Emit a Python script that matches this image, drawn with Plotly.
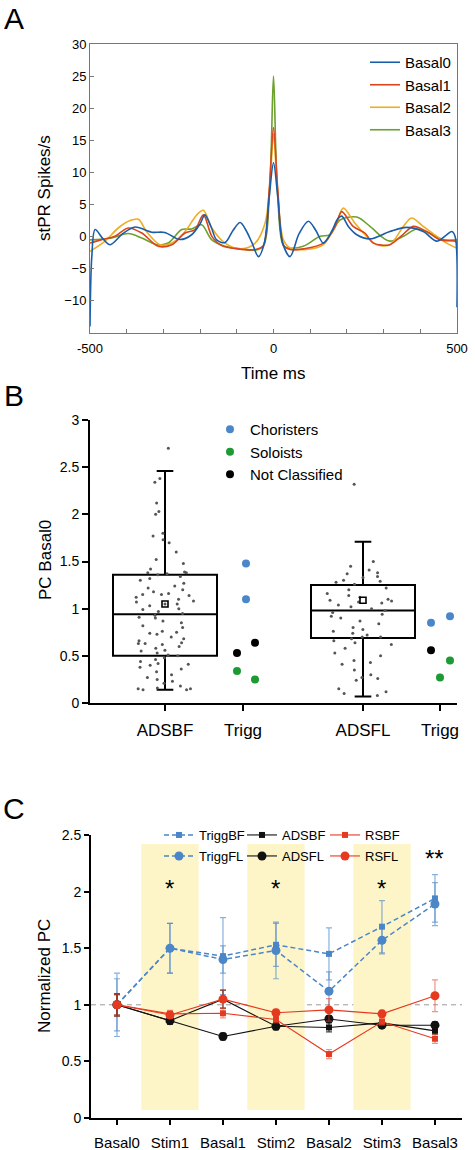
import plotly.graph_objects as go

FONT = "Liberation Sans, Arial, Helvetica, sans-serif"
W_VIEW, H = 475, 1150
W = 505  # figure canvas is a little wider than the window so the panel-A legend can sit near the edge

# ---------------- Panel A data ----------------
a_names = ["Basal0", "Basal1", "Basal2", "Basal3"]
a_colors = ["#1a5ea9", "#d9461b", "#eead22", "#6ba12c"]

basal0_t = [-500, -495, -486, -465, -445, -410, -377, -332, -296, -255, -223, -200, -187, -170, -155,
            -132, -110, -91, -75, -59, -41, -25, -12, 0, 12, 25, 45, 70, 95, 115, 136, 160, 175, 186,
            205, 227, 263, 317, 363, 408, 445, 470, 486, 495, 500]
basal0_v = [-14, -3, 1.1, -0.3, -1.25, 0.5, 1.5, 0.7, 0.65, -0.45, 0.3, 2.0, 3.4, 1.5, -0.5,
            -0.9, 1.0, 2.2, 1.0, -0.9, -3.1, -1.0, 6, 11.5, 6, -1.0, -3.1, 0.5, 2.4, 1.0, -1.0, 1.0, 2.8, 3.2,
            1.5, 0.3, -0.35, 0.8, 1.45, 0.8, -0.7, 0.2, 0.8, 0, -11]

basal1_t = [-500, -470, -432, -396, -359, -314, -277, -241, -214, -191, -168, -141, -97, -50, -28, -12, 0,
            12, 28, 45, 81, 136, 168, 186, 217, 249, 272, 317, 350, 381, 417, 454, 495, 500]
basal1_v = [-1.0, -0.5, 0.05, 1.35, 0.57, -1.5, -1.25, 0.57, 1.1, 3.4, 0.05, -1.4, -1.9, -2.0, -1.4, 7, 17,
            7, -1.4, -2.0, -1.9, -1.0, 1.6, 3.9, 1.6, 0.57, -1.0, -1.25, 0.2, 1.6, 0.8, -0.5, -0.7, -1.0]

basal2_t = [-500, -459, -423, -391, -368, -346, -309, -277, -241, -209, -191, -168, -132, -87, -50, -23,
            -10, 0, 10, 27, 45, 90, 136, 172, 190, 222, 254, 281, 317, 354, 376, 408, 445, 472, 500]
basal2_v = [-2.3, -0.7, 1.35, 2.5, 2.7, 0.8, -1.25, -1.0, 0.8, 3.4, 4.1, 1.35, -1.0, -1.9, -1.0, 2.1,
            8, 16, 8, -0.5, -1.75, -2.0, -1.25, 2.1, 4.45, 2.1, 0.05, -1.25, -1.25, 1.6, 2.9, 1.6, 0.05, -1.0, -1.8]

basal3_t = [-500, -441, -396, -359, -318, -287, -250, -223, -196, -168, -132, -87, -50, -28, -10, 0, 10,
            28, 45, 81, 127, 154, 181, 227, 263, 299, 317, 354, 390, 426, 463, 500]
basal3_v = [-0.5, -0.2, 0.5, -0.2, -1.25, -1.0, 1.1, 1.2, 1.85, -0.5, -1.5, -1.9, -2.1, -1.5, 8, 25, 8,
            -1.5, -1.8, -1.5, 0.05, 0.3, 2.6, 3.05, 1.6, -0.2, -0.7, 0.05, 1.2, 0.57, -0.5, -0.5]

a_t = [basal0_t, basal1_t, basal2_t, basal3_t]
a_v = [basal0_v, basal1_v, basal2_v, basal3_v]
a_xticks = [-500, -400, -300, -200, -100, 0, 100, 200, 300, 400, 500]
a_xlabels = ["-500", "", "", "", "", "0", "", "", "", "", "500"]
a_yticks = [-10, -5, 0, 5, 10, 15, 20, 25, 30]

# ---------------- Panel B data ----------------
b_cats = ["ADSBF", "Trigg", "ADSFL", "Trigg"]
adsbf_vals = [2.70, 2.38, 2.34, 2.12, 2.03, 2.00, 1.80, 1.77, 1.73, 1.70, 1.60, 1.52, 1.48, 1.42,
              1.39, 1.38, 1.38, 1.37, 1.36, 1.34, 1.32, 1.30, 1.27, 1.24, 1.22, 1.20, 1.18, 1.16, 1.15,
              1.15, 1.14, 1.12, 1.10, 1.08, 1.07, 1.05, 1.05, 1.03, 1.00, 0.99, 0.97, 0.95, 0.93, 0.91,
              0.90, 0.87, 0.85, 0.82, 0.80, 0.76, 0.75, 0.74, 0.73, 0.70, 0.68, 0.66, 0.64, 0.63, 0.63,
              0.62, 0.60, 0.58, 0.56, 0.55, 0.53, 0.51, 0.50, 0.48, 0.46, 0.44, 0.42, 0.41, 0.40, 0.38,
              0.36, 0.33, 0.30, 0.27, 0.25, 0.23, 0.21, 0.18, 0.16, 0.15, 0.15, 0.14, 0.14]
adsfl_vals = [2.32, 1.50, 1.45, 1.41, 1.38, 1.37, 1.34, 1.33, 1.30, 1.29, 1.28, 1.26, 1.22, 1.20, 1.16,
              1.14, 1.12, 1.10, 1.09, 1.08, 1.07, 1.06, 1.04, 1.02, 1.00, 0.98, 0.96, 0.94, 0.92, 0.90,
              0.87, 0.84, 0.80, 0.78, 0.76, 0.74, 0.72, 0.70, 0.70, 0.68, 0.66, 0.64, 0.62, 0.58, 0.53,
              0.50, 0.45, 0.43, 0.41, 0.35, 0.30, 0.27, 0.26, 0.24, 0.15, 0.12, 0.10, 0.08]
box_q1 = [0.50, 0.69]
box_median = [0.94, 0.98]
box_q3 = [1.36, 1.25]
box_low = [0.14, 0.07]
box_high = [2.46, 1.71]
box_mean = [1.05, 1.09]

trigg_classes = ["Choristers", "Soloists", "Not Classified"]
trigg_colors = ["#4a86c8", "#1c9a33", "#000000"]
# values for [first Trigg group, second Trigg group]
trigg_chor = [[1.48, 1.10], [0.85, 0.92]]
trigg_solo = [[0.34, 0.25], [0.45, 0.27]]
trigg_notc = [[0.53, 0.64], [0.56]]
trigg_vals = [trigg_chor, trigg_solo, trigg_notc]

# ---------------- Panel C data ----------------
c_cats = ["Basal0", "Stim1", "Basal1", "Stim2", "Basal2", "Stim3", "Basal3"]
c_names = ["TriggBF", "TriggFL", "ADSBF", "ADSFL", "RSBF", "RSFL"]
triggbf_y = [1.00, 1.50, 1.43, 1.53, 1.45, 1.69, 1.94]
triggbf_e = [0.23, 0.22, 0.34, 0.19, 0.23, 0.23, 0.21]
triggfl_y = [1.00, 1.50, 1.40, 1.48, 1.12, 1.57, 1.89]
triggfl_e = [0.28, 0.22, 0.12, 0.25, 0.17, 0.12, 0.19]
adsbf_y = [1.00, 0.86, 1.05, 0.81, 0.80, 0.84, 0.77]
adsbf_e = [0.10, 0.03, 0.08, 0.03, 0.04, 0.02, 0.03]
adsfl_y = [1.00, 0.86, 0.72, 0.81, 0.875, 0.82, 0.82]
adsfl_e = [0.09, 0.03, 0.03, 0.03, 0.03, 0.02, 0.03]
rsbf_y = [1.00, 0.92, 0.925, 0.87, 0.565, 0.85, 0.70]
rsbf_e = [0.10, 0.03, 0.04, 0.03, 0.04, 0.03, 0.04]
rsfl_y = [1.00, 0.91, 1.05, 0.93, 0.955, 0.92, 1.08]
rsfl_e = [0.09, 0.03, 0.08, 0.03, 0.10, 0.03, 0.14]
c_y = [triggbf_y, triggfl_y, adsbf_y, adsfl_y, rsbf_y, rsfl_y]
c_e = [triggbf_e, triggfl_e, adsbf_e, adsfl_e, rsbf_e, rsfl_e]
sig_cats = ["Stim1", "Stim2", "Stim3", "Basal3"]
sig_text = ["*", "*", "*", "**"]
sig_y = [2.03, 2.03, 2.03, 2.29]

# ---------------- layout helpers (pixels) ----------------
def px_x(p):
    return p / W

def px_y(p):
    return 1 - p / H

fig = go.Figure()

# Panel A traces (draw Basal3 first so Basal0 on top; legend ranks keep order)
for i in reversed(range(4)):
    fig.add_trace(go.Scatter(
        x=a_t[i], y=a_v[i], mode="lines", name=a_names[i],
        line=dict(color=a_colors[i], width=1.6, shape="spline", smoothing=0.9),
        xaxis="x", yaxis="y", legend="legend", legendrank=i + 1))

# Panel B
b_pos = [75, 153, 273, 350]
box_w = 104
fig.add_trace(go.Box(
    x=[b_pos[0], b_pos[2]], q1=box_q1, median=box_median, q3=box_q3,
    lowerfence=box_low, upperfence=box_high, width=box_w, whiskerwidth=0.16,
    boxpoints=False, line=dict(color="black", width=2), fillcolor="rgba(255,255,255,0)",
    showlegend=False, xaxis="x2", yaxis="y2"))
for pos, vals in ((b_pos[0], adsbf_vals), (b_pos[2], adsfl_vals)):
    fig.add_trace(go.Box(
        x=[pos] * len(vals), y=vals, width=box_w, boxpoints="all", jitter=0.8, pointpos=0,
        marker=dict(color="#555555", size=3), line=dict(width=0), fillcolor="rgba(0,0,0,0)",
        whiskerwidth=0, showlegend=False, xaxis="x2", yaxis="y2"))
fig.add_trace(go.Scatter(
    x=[b_pos[0], b_pos[2]], y=box_mean, mode="markers",
    marker=dict(symbol="square-open", size=6, color="black", line=dict(width=1.6)),
    showlegend=False, xaxis="x2", yaxis="y2"))

# dot offsets within each Trigg column (layout only)
trigg_offsets = [[[3, 3], [-9, 10]], [[-6, 12], [10, 0]], [[-6, 12], [-9]]]
for k in range(3):
    xs, ys = [], []
    for g, base in enumerate([b_pos[1], b_pos[3]]):
        for v, off in zip(trigg_vals[k][g], trigg_offsets[k][g]):
            xs.append(base + off)
            ys.append(v)
    fig.add_trace(go.Scatter(
        x=xs, y=ys, mode="markers", name=trigg_classes[k],
        marker=dict(color=trigg_colors[k], size=8),
        xaxis="x2", yaxis="y2", legend="legend2", legendrank=k + 1))

# Panel C
blue = "#4a86c8"
red = "#e63a20"
c_styles = [
    dict(color=blue, dash="5px,3px", symbol="square", size=6, ecol="rgba(74,134,200,0.65)", w=1.5),
    dict(color=blue, dash="5px,3px", symbol="circle", size=9, ecol="rgba(74,134,200,0.65)", w=1.5),
    dict(color="#111111", dash="solid", symbol="square", size=6, ecol="rgba(20,20,20,0.8)", w=1.1),
    dict(color="#111111", dash="solid", symbol="circle", size=9, ecol="rgba(20,20,20,0.8)", w=1.1),
    dict(color=red, dash="solid", symbol="square", size=6, ecol="rgba(230,58,32,0.55)", w=1.1),
    dict(color=red, dash="solid", symbol="circle", size=9, ecol="rgba(230,58,32,0.55)", w=1.1),
]
c_legend = ["legend3", "legend4", "legend3", "legend4", "legend3", "legend4"]
c_ranks = [1, 1, 2, 2, 3, 3]
for i in range(6):
    s = c_styles[i]
    fig.add_trace(go.Scatter(
        x=c_cats, y=c_y[i], mode="lines+markers", name=c_names[i],
        line=dict(color=s["color"], dash=s["dash"], width=s["w"]),
        marker=dict(symbol=s["symbol"], size=s["size"], color=s["color"]),
        error_y=dict(type="data", array=c_e[i], color=s["ecol"], thickness=1.2, width=3),
        xaxis="x3", yaxis="y3", legend=c_legend[i], legendrank=c_ranks[i]))

shapes = []
band_half = 0.54
for i, c in enumerate(c_cats):
    if c.startswith("Stim"):
        shapes.append(dict(type="rect", xref="x3", yref="y3", x0=i - band_half, x1=i + band_half,
                           y0=0.07, y1=2.42, fillcolor="#fdf5c8", line=dict(width=0), layer="below"))
shapes.append(dict(type="line", xref="x3 domain", yref="y3", x0=0, x1=1, y0=1, y1=1,
                   line=dict(color="#9a9a9a", width=1, dash="5px,4px"), layer="below"))

annotations = []
for c, t, yv in zip(sig_cats, sig_text, sig_y):
    annotations.append(dict(x=c, y=yv, xref="x3", yref="y3", text=t, showarrow=False,
                            font=dict(size=24, family=FONT, color="black")))

def paper_text(text, x, y, size, angle=0):
    return dict(x=px_x(x), y=px_y(y), xref="paper", yref="paper", text=text, showarrow=False,
                textangle=angle, font=dict(size=size, family=FONT, color="black"),
                xanchor="center", yanchor="middle")

annotations += [
    paper_text("A", 14, 18, 30),
    paper_text("B", 14, 395, 30),
    paper_text("C", 14, 808, 30),
    paper_text("stPR Spikes/s", 45, 188, 17, -90),
    paper_text("Time ms", 273, 373, 17),
    paper_text("PC Basal0", 45, 560, 17, -90),
    paper_text("Normalized PC", 44, 976, 17, -90),
]

tickfont13 = dict(size=13, family=FONT, color="black")
common = dict(showgrid=False, zeroline=False, automargin=False)
legend_common = dict(xanchor="left", yanchor="top", bgcolor="rgba(0,0,0,0)", traceorder="normal",
                     itemwidth=30, tracegroupgap=0)
fig.update_layout(
    template="none",
    width=W, height=H, margin=dict(l=0, r=0, t=0, b=0, pad=0, autoexpand=False),
    paper_bgcolor="white", plot_bgcolor="rgba(0,0,0,0)",
    font=dict(family=FONT, color="black"),
    shapes=shapes, annotations=annotations,
    xaxis=dict(domain=[px_x(90), px_x(457)], range=[-500, 500], tickvals=a_xticks, ticktext=a_xlabels,
               anchor="y", ticks="inside", ticklen=4, tickcolor="#777", showline=True, linecolor="#777",
               mirror=True, tickfont=tickfont13, ticklabelstandoff=3, **common),
    yaxis=dict(domain=[px_y(333), px_y(44)], range=[-15, 30], tickvals=a_yticks, anchor="x",
               ticks="inside", ticklen=4, tickcolor="#777", showline=True, linecolor="#777", mirror=True,
               tickfont=tickfont13, **common),
    xaxis2=dict(domain=[px_x(90), px_x(457)], range=[0, 367], tickvals=b_pos, ticktext=b_cats, anchor="y2",
                ticks="outside", ticklen=6, tickwidth=2, tickcolor="black", showline=True, linecolor="black",
                linewidth=2, tickfont=dict(size=17, family=FONT, color="black"), ticklabelstandoff=5,
                **common),
    yaxis2=dict(domain=[px_y(703), px_y(420)], range=[0, 3], tickvals=[0, 0.5, 1, 1.5, 2, 2.5, 3],
                ticktext=["0", "0.5", "1", "1.5", "2", "2.5", "3"], anchor="x2",
                ticks="outside", ticklen=6, tickwidth=1.5, tickcolor="black", showline=True, linecolor="black",
                linewidth=2, tickfont=dict(size=14, family=FONT, color="black"), **common),
    xaxis3=dict(domain=[px_x(91), px_x(462)], type="category", range=[-0.49, 6.51], anchor="y3",
                ticks="outside", ticklen=5, tickwidth=1.5, tickcolor="black", showline=True, linecolor="black",
                linewidth=2, tickfont=dict(size=15, family=FONT, color="black"), ticklabelstandoff=5,
                **common),
    yaxis3=dict(domain=[px_y(1118), px_y(835)], range=[0, 2.5], tickvals=[0, 0.5, 1, 1.5, 2, 2.5],
                ticktext=["0", "0.5", "1", "1.5", "2", "2.5"], anchor="x3",
                ticks="outside", ticklen=5, tickwidth=1.5, tickcolor="black", showline=True, linecolor="black",
                linewidth=2, tickfont=dict(size=14, family=FONT, color="black"), **common),
    legend=dict(x=px_x(365), y=px_y(46), font=dict(size=15, family=FONT, color="black"), **legend_common),
    legend2=dict(x=px_x(210), y=px_y(413), font=dict(size=15, family=FONT, color="black"), **legend_common),
    legend3=dict(x=px_x(159), y=px_y(820), orientation="h", entrywidth=38, entrywidthmode="pixels",
                 font=dict(size=13, family=FONT, color="black"), **legend_common),
    legend4=dict(x=px_x(159), y=px_y(841), orientation="h", entrywidth=38, entrywidthmode="pixels",
                 font=dict(size=13, family=FONT, color="black"), **legend_common),
)

fig.write_html(
    "out.html",
    config={"displayModeBar": False},
    post_script="document.body.style.margin='0px';document.body.style.overflow='hidden';"
                "document.documentElement.style.overflow='hidden';",
)
